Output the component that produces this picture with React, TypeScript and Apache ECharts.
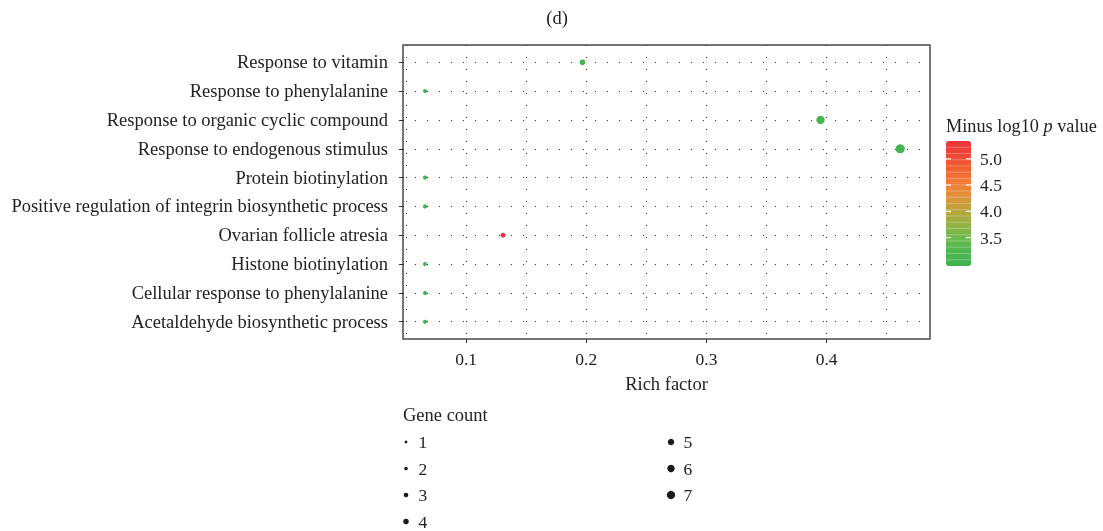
import React, { useEffect, useRef } from "react";
import * as echarts from "echarts";

const categories = [
  "Response to vitamin",
  "Response to phenylalanine",
  "Response to organic cyclic compound",
  "Response to endogenous stimulus",
  "Protein biotinylation",
  "Positive regulation of integrin biosynthetic process",
  "Ovarian follicle atresia",
  "Histone biotinylation",
  "Cellular response to phenylalanine",
  "Acetaldehyde biosynthetic process",
];
const richFactor = [0.1968, 0.0658, 0.3949, 0.4612, 0.0658, 0.0658, 0.1307, 0.0658, 0.0658, 0.0658];
const geneCount = [3, 1, 6, 7, 1, 1, 2, 1, 1, 1];
const minusLog10P = [3.02, 2.96, 2.99, 3.04, 2.96, 2.96, 5.34, 2.96, 2.96, 2.96];

const xTickValues = [0.1, 0.2, 0.3, 0.4];
const xGridValues = [0.05, 0.1, 0.15, 0.2, 0.25, 0.3, 0.35, 0.4, 0.45];
const legendCounts = [1, 2, 3, 4, 5, 6, 7];
const colorbarTicks = [5.0, 4.5, 4.0, 3.5];
const pMin = 2.96;
const pMax = 5.34;

const FONT = "'Liberation Serif', 'Times New Roman', serif";
const TEXT = "#222";
const LABEL_SIZE = 18.5;
const NUM_SIZE = 17.5;

const dotSize = (c: number) => 3.2 + 0.85 * c;
const legendDotSize = (c: number) => 1.8 + 0.93 * c;

export default function App() {
  const ref = useRef<HTMLDivElement>(null);
  useEffect(() => {
    if (!ref.current) return;
    const chart = echarts.init(ref.current, undefined, { renderer: "svg" });

    const yVals = categories.map((_, i) => i + 1);
    const data = categories.map((name, i) => [richFactor[i], i + 1, geneCount[i], minusLog10P[i], name]);

    const cbLeft = 946, cbTop = 141, cbW = 25, cbH = 125;
    const cbY = (v: number) => cbTop + (cbH * (pMax - v)) / (pMax - pMin);

    const graphics: any[] = [];
    graphics.push({
      type: "text", x: 557, y: 18,
      style: { text: "(d)", font: `${LABEL_SIZE}px ${FONT}`, fill: TEXT, textAlign: "center", textVerticalAlign: "middle" },
    });
    graphics.push({
      type: "text", x: 946, y: 126, z: 10,
      style: {
        text: "Minus log10 {i|p} value",
        font: `18.3px ${FONT}`, fill: TEXT, textVerticalAlign: "middle",
        rich: { i: { fontStyle: "italic", fontSize: 18.3, fontFamily: FONT, fill: TEXT } },
      },
    });
    const nb = 20;
    for (let k = 1; k < nb; k++) {
      const y = cbTop + (cbH * k) / nb;
      graphics.push({ type: "line", z: 10, shape: { x1: cbLeft, y1: y, x2: cbLeft + cbW, y2: y }, style: { stroke: "rgba(255,255,255,0.28)", lineWidth: 1 } });
    }
    colorbarTicks.forEach((v) => {
      const y = cbY(v);
      graphics.push({ type: "line", z: 11, shape: { x1: cbLeft, y1: y, x2: cbLeft + 5, y2: y }, style: { stroke: "#fff", lineWidth: 1.2 } });
      graphics.push({ type: "line", z: 11, shape: { x1: cbLeft + cbW - 5, y1: y, x2: cbLeft + cbW, y2: y }, style: { stroke: "#fff", lineWidth: 1.2 } });
      graphics.push({
        type: "text", x: 980, y, z: 11,
        style: { text: v.toFixed(1), font: `${NUM_SIZE}px ${FONT}`, fill: TEXT, textVerticalAlign: "middle" },
      });
    });
    graphics.push({
      type: "text", x: 403, y: 415,
      style: { text: "Gene count", font: `${LABEL_SIZE}px ${FONT}`, fill: TEXT, textVerticalAlign: "middle" },
    });
    const colX = [406, 671];
    const rowY = [442, 468.5, 495, 521.5];
    legendCounts.forEach((c, i) => {
      const col = i < 4 ? 0 : 1;
      const row = i < 4 ? i : i - 4;
      const x = colX[col], y = rowY[row];
      graphics.push({ type: "circle", shape: { cx: x, cy: y, r: legendDotSize(c) / 2 }, style: { fill: "#1a1a1a" } });
      graphics.push({
        type: "text", x: x + 12.5, y,
        style: { text: String(c), font: `${NUM_SIZE}px ${FONT}`, fill: TEXT, textVerticalAlign: "middle" },
      });
    });

    const dotted = { type: [1, 11], color: "#333", width: 1 };

    chart.setOption({
      animation: false,
      textStyle: { fontFamily: FONT },
      grid: {
        left: 403, top: 45, width: 527, height: 294,
        show: true, borderColor: "#4a4a4a", borderWidth: 1.5, backgroundColor: "transparent",
      },
      xAxis: {
        type: "value", min: 0.0475, max: 0.486,
        name: "Rich factor", nameLocation: "middle", nameGap: 35,
        nameTextStyle: { fontSize: LABEL_SIZE, color: TEXT, fontFamily: FONT },
        axisLine: { show: false },
        axisTick: { show: true, customValues: xTickValues, length: 4, lineStyle: { color: "#333" } },
        axisLabel: { customValues: xTickValues, formatter: (v: number) => v.toFixed(1), fontSize: NUM_SIZE, color: TEXT, margin: 11, fontFamily: FONT },
        splitLine: { show: false },
      },
      yAxis: {
        type: "value", min: 0.4, max: 10.6, inverse: true,
        axisLine: { show: false },
        axisTick: { show: true, customValues: yVals, length: 4, lineStyle: { color: "#333" } },
        axisLabel: {
          customValues: yVals,
          formatter: (v: number) => categories[Math.round(v) - 1] ?? "",
          fontSize: LABEL_SIZE, color: TEXT, margin: 15, fontFamily: FONT,
        },
        splitLine: { show: false },
      },
      visualMap: {
        type: "continuous", min: pMin, max: pMax, dimension: 3, seriesIndex: 0,
        left: cbLeft, top: cbTop, itemWidth: cbW, itemHeight: cbH, padding: 0,
        calculable: false, hoverLink: false,
        inRange: {
          color: ["#3fb34f", "#4db650", "#6cba4c", "#94b244", "#b8a43c", "#e0923a", "#f27c36", "#f06230", "#ee4838", "#ed3437"],
        },
      },
      graphic: graphics,
      series: [
        {
          type: "scatter", z: 5, zlevel: 0,
          data,
          symbolSize: (v: any) => dotSize(v[2]),
          itemStyle: { opacity: 1 },
        },
        {
          type: "scatter", z: 1, data: [],
          markLine: {
            silent: true, symbol: ["none", "none"], z: 1,
            label: { show: false },
            lineStyle: dotted,
            data: [
              ...xGridValues.map((v) => ({ xAxis: v })),
              ...yVals.map((v) => ({ yAxis: v })),
            ],
          },
        },
      ],
    });
    return () => chart.dispose();
  }, []);
  return <div ref={ref} style={{ position: "fixed", left: 0, top: 0, width: 1103, height: 531 }} />;
}
